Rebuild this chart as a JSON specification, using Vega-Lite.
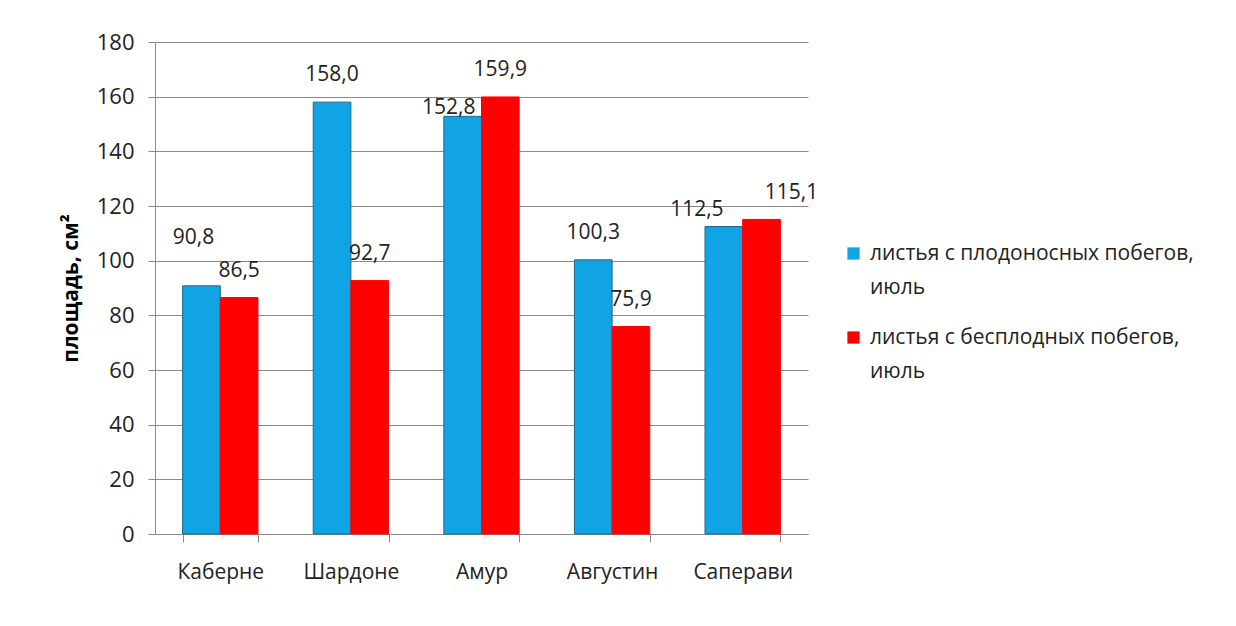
{
  "$schema": "https://vega.github.io/schema/vega-lite/v6.json",
  "autosize": "none",
  "width": 653,
  "height": 492,
  "padding": {"left": 155, "top": 42, "right": 428, "bottom": 92},
  "background": "white",
  "config": {
    "locale": {"number": {"decimal": ",", "thousands": " ", "grouping": [3], "currency": ["", " ₽"]}},
    "view": {"stroke": null},
    "font": "Open Sans"
  },
  "data": {
    "values": [
      {"sort": "Каберне", "series": "листья с плодоносных побегов, июль", "value": 90.8},
      {"sort": "Каберне", "series": "листья с бесплодных побегов, июль", "value": 86.5},
      {"sort": "Шардоне", "series": "листья с плодоносных побегов, июль", "value": 158.0},
      {"sort": "Шардоне", "series": "листья с бесплодных побегов, июль", "value": 92.7},
      {"sort": "Амур", "series": "листья с плодоносных побегов, июль", "value": 152.8},
      {"sort": "Амур", "series": "листья с бесплодных побегов, июль", "value": 159.9},
      {"sort": "Августин", "series": "листья с плодоносных побегов, июль", "value": 100.3},
      {"sort": "Августин", "series": "листья с бесплодных побегов, июль", "value": 75.9},
      {"sort": "Саперави", "series": "листья с плодоносных побегов, июль", "value": 112.5},
      {"sort": "Саперави", "series": "листья с бесплодных побегов, июль", "value": 115.1}
    ]
  },
  "encoding": {
    "x": {
      "field": "sort",
      "type": "nominal",
      "sort": ["Каберне", "Шардоне", "Амур", "Августин", "Саперави"],
      "scale": {"paddingInner": 0.423, "paddingOuter": 0.2115},
      "axis": {
        "title": null,
        "labelAngle": 0,
        "tickBand": "extent",
        "tickSize": 8,
        "tickColor": "#8a8a8a",
        "domainColor": "#8a8a8a",
        "labelFontSize": 21,
        "labelColor": "#222222",
        "labelPadding": 19,
        "grid": false
      }
    },
    "xOffset": {
      "field": "series",
      "sort": ["листья с плодоносных побегов, июль", "листья с бесплодных побегов, июль"],
      "scale": {"paddingInner": 0, "paddingOuter": 0}
    },
    "y": {
      "field": "value",
      "type": "quantitative",
      "scale": {"domain": [0, 180], "nice": false},
      "axis": {
        "values": [0, 20, 40, 60, 80, 100, 120, 140, 160, 180],
        "grid": true,
        "gridColor": "#8a8a8a",
        "domainColor": "#8a8a8a",
        "tickColor": "#8a8a8a",
        "tickSize": 7,
        "labelFontSize": 22,
        "labelColor": "#222222",
        "labelPadding": 14,
        "title": "площадь, см²",
        "titleFontSize": 21,
        "titleFontWeight": "bold",
        "titleColor": "#000000",
        "titlePadding": 15
      }
    }
  },
  "layer": [
    {
      "mark": {"type": "bar", "strokeWidth": 1},
      "encoding": {
        "color": {
          "field": "series",
          "type": "nominal",
          "sort": ["листья с плодоносных побегов, июль", "листья с бесплодных побегов, июль"],
          "scale": {"range": ["#10a4e4", "#ff0000"]},
          "legend": {
            "title": null,
            "orient": "none",
            "legendX": 688,
            "legendY": 201,
            "padding": 0,
            "symbolType": "square",
            "symbolSize": 150,
            "symbolStrokeWidth": 0,
            "labelFontSize": 21,
            "labelColor": "#222222",
            "labelOffset": 6,
            "labelLimit": 500,
            "rowPadding": 28,
            "labelExpr": "[replace(datum.label, ' июль', ''), 'июль']",
            "encode": {
              "labels": {"update": {"lineHeight": {"value": 34}}}
            }
          }
        },
        "stroke": {
          "field": "series",
          "type": "nominal",
          "sort": ["листья с плодоносных побегов, июль", "листья с бесплодных побегов, июль"],
          "scale": {"range": ["#22668f", "#ff0000"]},
          "legend": null
        }
      }
    },
    {
      "transform": [{"filter": "indexof([90.8, 152.8, 112.5, 115.1], datum.value) < 0"}],
      "mark": {"type": "text", "dy": -27, "fontSize": 21, "color": "#222222", "baseline": "middle"},
      "encoding": {"text": {"field": "value", "type": "quantitative", "format": ".1f"}}
    },
    {
      "transform": [{"filter": "datum.value == 90.8"}],
      "mark": {"type": "text", "dy": -48, "dx": -8, "fontSize": 21, "color": "#222222", "baseline": "middle"},
      "encoding": {"text": {"field": "value", "type": "quantitative", "format": ".1f"}}
    },
    {
      "transform": [{"filter": "datum.value == 152.8"}],
      "mark": {"type": "text", "dy": -8, "dx": -14, "fontSize": 21, "color": "#222222", "baseline": "middle"},
      "encoding": {"text": {"field": "value", "type": "quantitative", "format": ".1f"}}
    },
    {
      "transform": [{"filter": "datum.value == 112.5"}],
      "mark": {"type": "text", "dy": -17, "dx": -27, "fontSize": 21, "color": "#222222", "baseline": "middle"},
      "encoding": {"text": {"field": "value", "type": "quantitative", "format": ".1f"}}
    },
    {
      "transform": [{"filter": "datum.value == 115.1"}],
      "mark": {"type": "text", "dy": -26, "dx": 30, "fontSize": 21, "color": "#222222", "baseline": "middle"},
      "encoding": {"text": {"field": "value", "type": "quantitative", "format": ".1f"}}
    }
  ]
}
